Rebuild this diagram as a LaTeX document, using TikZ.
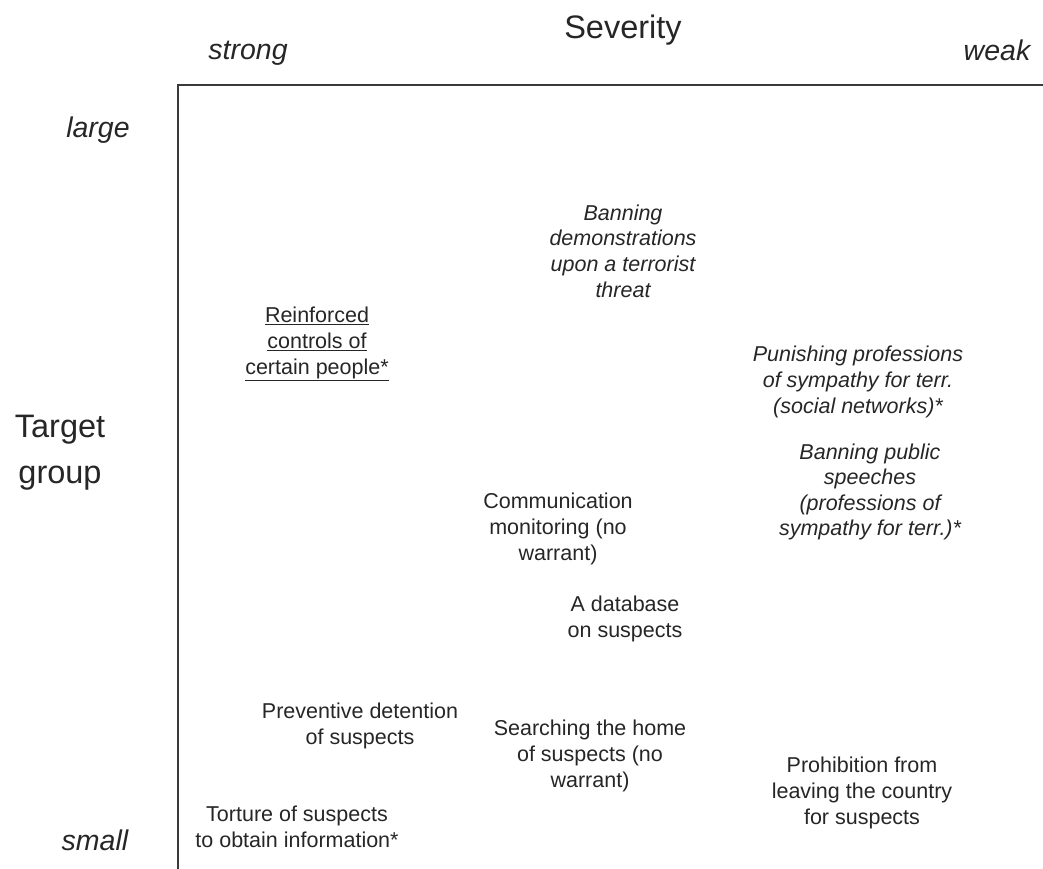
\documentclass[tikz,border=0pt]{standalone}
\usepackage{fontspec}
\setmainfont{Liberation Sans}

\definecolor{ink}{HTML}{262626}
\definecolor{axis}{HTML}{3A3A3A}

\tikzset{
  measure/.style={font=\fontsize{21.5}{25.6}\selectfont, align=center, text=ink, inner sep=0pt},
  measureit/.style={measure, font=\fontsize{21.5}{25.6}\selectfont\itshape},
  pole/.style={font=\fontsize{28.5}{34}\selectfont\itshape, text=ink, inner sep=0pt},
  axistitle/.style={font=\fontsize{32.5}{46}\selectfont, align=center, text=ink, inner sep=0pt}
}

\begin{document}
\begin{tikzpicture}[x=1pt, y=-1pt]
    \useasboundingbox (0,0) rectangle (1043,869);
    % Axes
    \draw[axis, line width=2pt] (178,869) -- (178,85) -- (1043,85);
    % Axis titles
    \node[axistitle] (severity) at (623,30) {Severity};
    \node[axistitle] (target) at (60,453) {Target\\group};
    % Poles
    \node[pole] (strong) at (248,53) {strong};
    \node[pole] (weak) at (997,50) {weak};
    \node[pole] (large) at (98,130) {large};
    \node[pole] (small) at (95,840) {small};
    % Measures
    \node[measureit] (demos) at (623,251) {Banning\\demonstrations\\upon a terrorist\\threat};
    \node[measure] (controls) at (317,344) {\underline{Reinforced}\\\underline{controls of}\\\underline{certain people*}};
    \node[measureit] (punish) at (858,382) {Punishing professions\\of sympathy for terr.\\(social networks)*};
    \node[measureit] (speeches) at (870,492) {Banning public\\speeches\\(professions of\\sympathy for terr.)*};
    \node[measure] (monitor) at (558,529) {Communication\\monitoring (no\\warrant)};
    \node[measure] (database) at (625,619) {A database\\on suspects};
    \node[measure] (detention) at (360,726) {Preventive detention\\of suspects};
    \node[measure] (search) at (590,756) {Searching the home\\of suspects (no\\warrant)};
    \node[measure] (leaving) at (862,793) {Prohibition from\\leaving the country\\for suspects};
    \node[measure] (torture) at (297,827) {Torture of suspects\\to obtain information*};
\end{tikzpicture}
\end{document}
